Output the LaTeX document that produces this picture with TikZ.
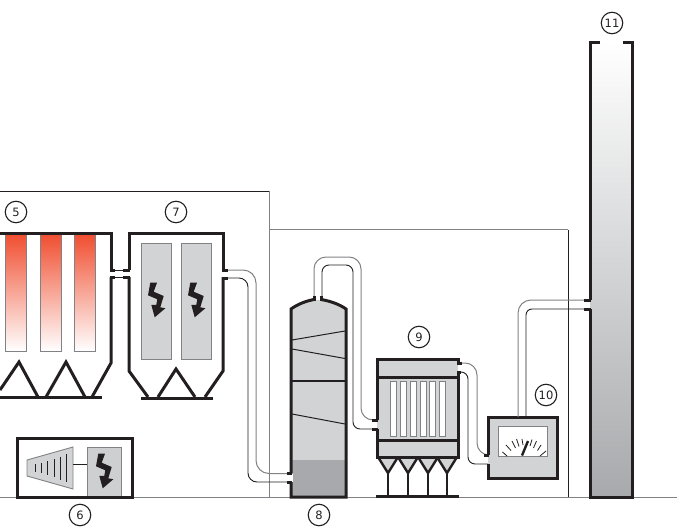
\documentclass[tikz,border=0pt]{standalone}
\usepackage{fontspec}
\setmainfont{DejaVu Sans}
\definecolor{ink}{HTML}{231F20}
\definecolor{lg}{HTML}{D1D3D4}
\definecolor{mg}{HTML}{A7A9AC}
\definecolor{dg}{HTML}{808285}
\definecolor{hot}{HTML}{F04E30}
\tikzset{
  wall/.style={draw=ink,line width=3pt,line cap=butt,line join=miter},
  thinwall/.style={draw=ink,line width=1pt},
  pipeouter/.style={draw=dg,line width=1pt},
  pipeinner/.style={draw=ink,line width=.9pt},
  stub/.style={draw=ink,line width=3pt},
  frameln/.style={draw=dg,line width=1pt},
  panel/.style={fill=lg,draw=dg,line width=.9pt},
  redbar/.style={top color=hot,bottom color=white,draw=dg,line width=.9pt},
  numlabel/.style={circle,draw=ink,line width=1.1pt,minimum size=21.5pt,inner sep=0pt,font=\fontsize{11.5}{11.5}\selectfont,text=ink},
  tick/.style={draw=ink,line width=.8pt},
  slat/.style={fill=white,draw=dg,line width=.8pt},
  bolt/.pic={\fill[ink] (-5.7,-17.3)--(1,-17.3)--(-2.3,-8.3)--(7.7,-4)--(4.3,7.3)--(9.3,8.3)--(-1.3,17.3)--(-4.7,4.8)--(.3,4.8)--(1.3,-.7)--(-8,-4.7)--cycle;}
}
\begin{document}
\begin{tikzpicture}[x=1pt,y=-1pt]
\useasboundingbox (0,0) rectangle (677,527);
% frames
\draw[draw=ink,line width=.8pt] (0,191)--(269,191);
\draw[frameln] (269,191)--(269,497);
\draw[frameln] (269,229.5)--(568,229.5);
\draw[draw=ink,line width=.8pt] (568,229.5)--(568,497);
\draw[draw=dg,line width=1.3pt] (0,497.5)--(677,497.5);

% chamber 5
\foreach \a in {5,40,74}{\shade[redbar] (\a,234) rectangle (\a+21,351);}
\draw[wall] (0,233)--(111,233)--(111,270);
\draw[wall] (111,277)--(111,363)--(92,397);
\draw[wall] (0,397)--(102,397);
\draw[wall] (0,390)--(19,362)--(38,397);
\draw[wall] (46,397)--(66,362)--(85,397);
% chamber 7
\path[panel] (141,243) rectangle (171,359);
\path[panel] (181,243) rectangle (211,359);
\pic at (156,300) {bolt};
\pic at (196,300) {bolt};
\draw[wall] (129,270)--(129,233)--(223,233)--(223,270);
\draw[wall] (129,277)--(129,371)--(148,397);
\draw[wall] (223,277)--(223,371)--(205,397);
\draw[wall] (141,398)--(213,398);
\draw[wall] (158,397)--(176,369)--(195,397);
% neck 5-7
\draw[thinwall] (110,270)--(130,270);
\draw[thinwall] (110,277)--(130,277);
\draw[stub] (123,270)--(130,270);
\draw[stub] (123,277)--(130,277);
\draw[stub] (110,270)--(115,270);
\draw[stub] (110,277)--(115,277);

% pipe 7-8
\draw[pipeouter,rounded corners=13pt] (223,270)--(256,270)--(256,473.5)--(290,473.5);
\draw[pipeinner,rounded corners=9pt] (223,278)--(248,278)--(248,482)--(290,482);
\draw[stub] (222,270)--(228,270);
\draw[stub] (222,278)--(228,278);

% tower 8
\path[fill=lg] (291,309) .. controls (298,304) and (306,301) .. (314,300) -- (321,300) .. controls (330,301) and (339,304) .. (346,309) -- (346,497) -- (291,497) -- cycle;
\fill[mg] (291,460) rectangle (346,497);
\draw[wall] (291,473)--(291,309) .. controls (298,304) and (306,301) .. (314,299.5);
\draw[wall] (321,299.5) .. controls (330,301) and (339,304) .. (346,309)--(346,497)--(291,497)--(291,482);
\fill[white] (289,474) rectangle (293,481.5);
\draw[stub] (287,473.5)--(292,473.5);
\draw[stub] (287,482)--(292,482);
\draw[thinwall] (292,340)--(345,331);
\draw[thinwall] (292,349)--(345,358.5);
\draw[thinwall] (292,414)--(345,424);
\draw[draw=ink,line width=2pt] (291,381)--(346,381);

% pipe 8-9
\draw[pipeouter,rounded corners=12pt] (314,300)--(314,257)--(361,257)--(361,420)--(377,420);
\draw[pipeinner,rounded corners=7pt] (322,300)--(322,265)--(353,265)--(353,429)--(377,429);
\draw[stub] (314,296)--(314,301);
\draw[stub] (321.5,296)--(321.5,301);

% hoppers 9
\foreach \c in {388,408,428,447}{
  \path[fill=lg,draw=ink,line width=2.4pt,line join=miter] (\c-10,457)--(\c,473)--(\c+10,457);
  \draw[draw=ink,line width=2.8pt] (\c,473)--(\c,496);
}
\draw[wall] (376,496)--(459,496);
% box 9
\fill[lg] (377,359) rectangle (458,457);
\foreach \s in {390,400,410,420,429,439}{\draw[slat] (\s,381) rectangle (\s+6,436);}
\draw[wall] (377,420)--(377,359)--(458,359)--(458,363);
\draw[wall] (377,429)--(377,457)--(458,457)--(458,372);
\draw[wall] (377,377)--(458,377);
\draw[wall] (377,440)--(458,440);
\draw[stub] (372,420)--(378,420);
\draw[stub] (372,429)--(378,429);

% pipe 9-10
\draw[pipeouter,rounded corners=12pt] (458,363)--(477,363)--(477,455)--(488,455);
\draw[pipeinner,rounded corners=7pt] (458,372)--(468,372)--(468,464)--(488,464);
\draw[stub] (457,363)--(462,363);
\draw[stub] (457,372)--(461,372);

% box 10
\fill[lg] (488,417) rectangle (557,478);
\draw[wall] (488,455)--(488,417)--(557,417)--(557,478)--(488,478)--(488,464);
\draw[stub] (484,455)--(489,455);
\fill[white] (498,426) rectangle (547,456);
\draw[draw=dg,line width=.8pt] (498,426) rectangle (547,456);
\draw[tick] (502.5,452)--(507,456);
\draw[tick] (506,445)--(511,450.5);
\draw[tick] (512,441)--(515.5,448);
\draw[tick] (516.5,439)--(519,446.5);
\draw[tick] (522,439)--(523,445);
\draw[tick] (532,439.5)--(530,446);
\draw[tick] (536.5,441)--(533.5,448);
\draw[tick] (541,445)--(537.5,450.5);
\draw[tick] (546,451)--(540,456);
\draw[draw=ink,line width=2.4pt] (522,455.5)--(528,441);

% stack 11
\shade[top color=white,bottom color=mg] (590,42) rectangle (632,497);
\draw[wall] (600,43)--(590,43)--(590,300);
\draw[wall] (623,43)--(632.5,43)--(632.5,497)--(590,497)--(590,309);

% pipe 10-11
\draw[pipeouter,rounded corners=13pt] (518,417)--(518,300)--(590,300);
\draw[pipeinner,rounded corners=6pt] (526,417)--(526,309)--(590,309);
\draw[stub] (584,300)--(591,300);
\draw[stub] (584,309)--(591,309);

% box 6
\fill[lg!90!mg] (87,447) rectangle (121,497);
\draw[draw=dg,line width=.9pt] (87,497)--(87,447)--(121,447)--(121,497);
\pic at (104,471) {bolt};
\path[fill=lg,draw=dg,line width=.9pt] (27,460)--(73,447)--(73,489)--(27,476)--cycle;
\draw[draw=ink,line width=.8pt] (73,464)--(87,464);
\draw[tick] (35,464)--(35,472);
\draw[tick] (41,463)--(41,473);
\draw[tick] (47.5,461)--(47.5,475);
\draw[tick] (54,459)--(54,477);
\draw[tick] (60,456.5)--(60,479.5);
\draw[tick] (66,454)--(66,482);
\draw[wall] (17,497)--(17,438)--(132,438)--(132,497)--cycle;

% labels
\node[numlabel] (n5) at (16,212) {5};
\node[numlabel] (n7) at (176,212) {7};
\node[numlabel] (n6) at (80,515) {6};
\node[numlabel] (n8) at (319,515) {8};
\node[numlabel] (n9) at (419,337) {9};
\node[numlabel] (n10) at (546,395) {10};
\node[numlabel] (n11) at (612,23) {11};
\end{tikzpicture}
\end{document}
